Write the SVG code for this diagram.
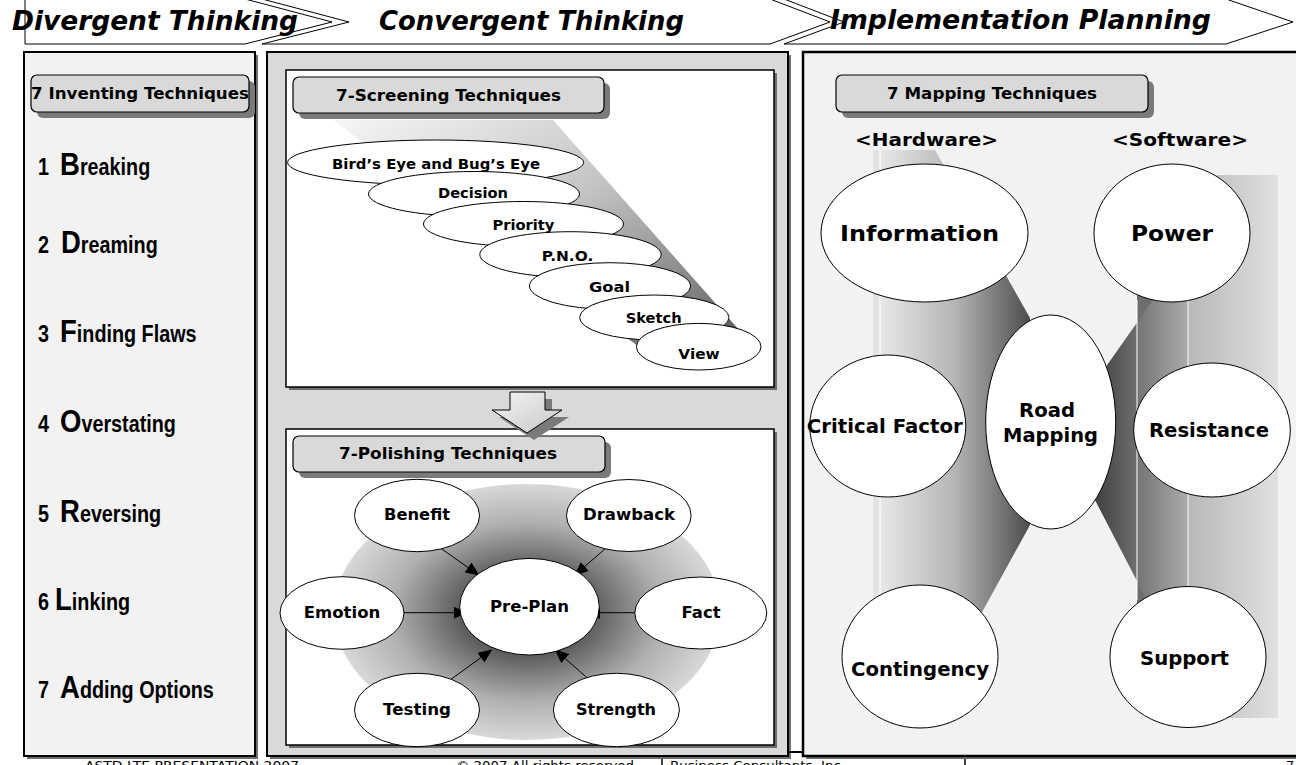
<svg xmlns="http://www.w3.org/2000/svg" width="1296" height="765" viewBox="0 0 1296 765">
<style>
.hdr{font-family:"DejaVu Sans",Verdana,sans-serif;font-weight:bold;font-style:italic;font-size:26px;fill:#000}
.lbl{font-family:"DejaVu Sans",Verdana,sans-serif;font-weight:bold;fill:#000;text-anchor:middle}
.item{font-family:"Liberation Sans",Arial,sans-serif;font-weight:bold;font-size:23px;fill:#000}
.big{font-size:32px}
.foot{font-family:"DejaVu Sans",Verdana,sans-serif;font-size:13px;fill:#000}
.chev{fill:#fff;stroke:#000;stroke-width:1}
.node{fill:#fff;stroke:#000;stroke-width:1}
.tbox{fill:#d9d9d9;stroke:#000;stroke-width:1.2}
.tsh{fill:#7a7a7a}
.psh{fill:#6e6e6e}
.conn{stroke:#000;stroke-width:1;fill:none;marker-end:url(#ah)}
</style>
<defs>
<marker id="ah" markerUnits="userSpaceOnUse" markerWidth="14" markerHeight="12" refX="13" refY="6" orient="auto"><path d="M0,0 L14,6 L0,12 z" fill="#000"/></marker>
<linearGradient id="beam" x1="0" y1="0" x2="1" y2="1"><stop offset="0" stop-color="#f6f6f6"/><stop offset="0.45" stop-color="#c4c4c4"/><stop offset="0.8" stop-color="#808080"/><stop offset="1" stop-color="#4a4a4a"/></linearGradient>
<radialGradient id="rad" cx="0.5" cy="0.5" r="0.5"><stop offset="0" stop-color="#2e2e2e"/><stop offset="0.35" stop-color="#5e5e5e"/><stop offset="0.7" stop-color="#b0b0b0"/><stop offset="1" stop-color="#d8d8d8"/></radialGradient>
<linearGradient id="arr" x1="0" y1="0" x2="1" y2="1"><stop offset="0" stop-color="#f4f4f4"/><stop offset="1" stop-color="#c8c8c8"/></linearGradient>
<linearGradient id="lband" gradientUnits="userSpaceOnUse" x1="880" y1="0" x2="1032" y2="0"><stop offset="0" stop-color="#e8e8e8"/><stop offset="0.5" stop-color="#b4b4b4"/><stop offset="1" stop-color="#4a4a4a"/></linearGradient>
<linearGradient id="rdark" gradientUnits="userSpaceOnUse" x1="1090" y1="0" x2="1137" y2="0"><stop offset="0" stop-color="#3a3a3a"/><stop offset="1" stop-color="#6e6e6e"/></linearGradient>
<linearGradient id="rmid" gradientUnits="userSpaceOnUse" x1="1137" y1="0" x2="1188" y2="0"><stop offset="0" stop-color="#747474"/><stop offset="1" stop-color="#ababab"/></linearGradient>
<linearGradient id="rlight" gradientUnits="userSpaceOnUse" x1="1188" y1="0" x2="1278" y2="0"><stop offset="0" stop-color="#b8b8b8"/><stop offset="1" stop-color="#e0e0e0"/></linearGradient>
</defs>

<g id="header">
<polygon class="chev" points="25,-1 245,-1 332,22 245,44 25,44"/>
<polygon class="chev" points="262,-1 770,-1 830,22 770,44 262,44 349,22"/>
<polygon class="chev" points="784,-1 1226,-1 1293,22 1226,44 784,44 844,22"/>
<text class="hdr" x="12" y="30" textLength="286" lengthAdjust="spacingAndGlyphs">Divergent Thinking</text>
<text class="hdr" x="379" y="30" textLength="305" lengthAdjust="spacingAndGlyphs">Convergent Thinking</text>
<text class="hdr" x="830" y="29" textLength="381" lengthAdjust="spacingAndGlyphs">Implementation Planning</text>
</g>

<g id="panel-left">
<rect class="psh" x="27" y="55" width="231" height="704"/>
<rect x="24" y="52" width="231" height="704" fill="#f2f2f2" stroke="#000" stroke-width="2"/>
<rect class="tsh" x="37" y="81" width="218" height="37" rx="6"/>
<rect class="tbox" x="31" y="75" width="218" height="37" rx="6"/>
<text class="lbl" x="140" y="99" font-size="16" textLength="218" lengthAdjust="spacingAndGlyphs">7 Inventing Techniques</text>
<g transform="translate(38,175) scale(0.86,1)"><text class="item">1<tspan x="25.6" class="big">B</tspan>reaking</text></g>
<g transform="translate(38,253) scale(0.86,1)"><text class="item">2<tspan x="26.7" class="big">D</tspan>reaming</text></g>
<g transform="translate(38,342) scale(0.86,1)"><text class="item">3<tspan x="25.6" class="big">F</tspan>inding Flaws</text></g>
<g transform="translate(38,432) scale(0.86,1)"><text class="item">4<tspan x="25.6" class="big">O</tspan>verstating</text></g>
<g transform="translate(38,522) scale(0.86,1)"><text class="item">5<tspan x="25.6" class="big">R</tspan>eversing</text></g>
<g transform="translate(38,610) scale(0.86,1)"><text class="item">6<tspan x="19.8" class="big">L</tspan>inking</text></g>
<g transform="translate(38,698) scale(0.86,1)"><text class="item">7<tspan x="25.6" class="big">A</tspan>dding Options</text></g>
</g>

<g id="panel-middle">
<rect class="psh" x="270" y="55" width="521" height="704"/>
<rect x="267" y="52" width="521" height="704" fill="#d9d9d9" stroke="#000" stroke-width="2"/>
<rect class="psh" x="289" y="73" width="488" height="317"/>
<rect x="286" y="70" width="488" height="317" fill="#fff" stroke="#000" stroke-width="1.5"/>
<rect class="psh" x="289" y="432" width="488" height="316"/>
<rect x="286" y="429" width="488" height="316" fill="#fff" stroke="#000" stroke-width="1.5"/>
</g>

<g id="screening">
<polygon points="333,120 553,120 748,340 700,360 650,355" fill="url(#beam)"/>
<rect class="tsh" x="299" y="83" width="311" height="36" rx="6"/>
<rect class="tbox" x="293" y="77" width="311" height="36" rx="6"/>
<text class="lbl" x="448.5" y="101" font-size="16" textLength="225" lengthAdjust="spacingAndGlyphs">7-Screening Techniques</text>
<g id="s1"><ellipse class="node" cx="435.6" cy="162.5" rx="148" ry="22.5"/><text class="lbl" x="436" y="169" font-size="14.5" textLength="208" lengthAdjust="spacingAndGlyphs">Bird’s Eye and Bug’s Eye</text></g>
<g id="s2"><ellipse class="node" cx="474" cy="194" rx="105.5" ry="22.5"/><text class="lbl" x="473" y="198" font-size="14.5" textLength="70" lengthAdjust="spacingAndGlyphs">Decision</text></g>
<g id="s3"><ellipse class="node" cx="523.5" cy="224" rx="100" ry="22.5"/><text class="lbl" x="523.4" y="230" font-size="14.5" textLength="62" lengthAdjust="spacingAndGlyphs">Priority</text></g>
<g id="s4"><ellipse class="node" cx="570.5" cy="254.5" rx="90.7" ry="22.8"/><text class="lbl" x="567.5" y="260.7" font-size="14.5" textLength="51.6" lengthAdjust="spacingAndGlyphs">P.N.O.</text></g>
<g id="s5"><ellipse class="node" cx="610" cy="286" rx="80.5" ry="23.3"/><text class="lbl" x="609.5" y="291.7" font-size="14.5" textLength="41" lengthAdjust="spacingAndGlyphs">Goal</text></g>
<g id="s6"><ellipse class="node" cx="654.3" cy="317.5" rx="74.7" ry="22.5"/><text class="lbl" x="653.7" y="322.7" font-size="14.5" textLength="56" lengthAdjust="spacingAndGlyphs">Sketch</text></g>
<g id="s7"><ellipse class="node" cx="698.7" cy="346.7" rx="62.3" ry="23.3"/><text class="lbl" x="699" y="359.3" font-size="14.5" textLength="41.3" lengthAdjust="spacingAndGlyphs">View</text></g>
</g>

<g id="polishing">
<ellipse cx="527" cy="612" rx="193" ry="128" fill="url(#rad)"/>
<rect class="tsh" x="299" y="442" width="312" height="36" rx="6"/>
<rect class="tbox" x="293" y="436" width="312" height="36" rx="6"/>
<text class="lbl" x="448" y="458.5" font-size="16" textLength="218" lengthAdjust="spacingAndGlyphs">7-Polishing Techniques</text>
</g>

<g id="connectors">
<line class="conn" x1="440.8" y1="548.3" x2="478.7" y2="575"/>
<line class="conn" x1="606" y1="548" x2="575" y2="575"/>
<line class="conn" x1="404" y1="612.7" x2="466.6" y2="612.7"/>
<line class="conn" x1="634.7" y1="612.7" x2="587" y2="612.7"/>
<line class="conn" x1="451" y1="679.3" x2="491.4" y2="650"/>
<line class="conn" x1="588.9" y1="679.3" x2="555.4" y2="650"/>
</g>

<g id="p-preplan"><ellipse class="node" cx="529.5" cy="606.7" rx="69.8" ry="48.3"/><text class="lbl" x="529.5" y="611.7" font-size="16" textLength="79" lengthAdjust="spacingAndGlyphs">Pre-Plan</text></g>
<g id="p-benefit"><ellipse class="node" cx="417" cy="515.5" rx="62.5" ry="36.2"/><text class="lbl" x="417" y="520" font-size="16" textLength="66" lengthAdjust="spacingAndGlyphs">Benefit</text></g>
<g id="p-drawback"><ellipse class="node" cx="628.8" cy="515.5" rx="62.3" ry="36"/><text class="lbl" x="629" y="520" font-size="16" textLength="92" lengthAdjust="spacingAndGlyphs">Drawback</text></g>
<g id="p-emotion"><ellipse class="node" cx="342" cy="613" rx="62" ry="36.3"/><text class="lbl" x="342" y="618.3" font-size="16" textLength="76.5" lengthAdjust="spacingAndGlyphs">Emotion</text></g>
<g id="p-fact"><ellipse class="node" cx="700.8" cy="613" rx="66" ry="36"/><text class="lbl" x="701" y="618" font-size="16" textLength="39" lengthAdjust="spacingAndGlyphs">Fact</text></g>
<g id="p-testing"><ellipse class="node" cx="417" cy="710" rx="62.5" ry="36.7"/><text class="lbl" x="417" y="715" font-size="16" textLength="68" lengthAdjust="spacingAndGlyphs">Testing</text></g>
<g id="p-strength"><ellipse class="node" cx="616.4" cy="710" rx="63" ry="36.7"/><text class="lbl" x="616" y="715" font-size="16" textLength="80" lengthAdjust="spacingAndGlyphs">Strength</text></g>

<g id="down-arrow">
<polygon points="517,399 552,399 552,417 569,417 534,440 499,417 517,417" fill="#7a7a7a"/>
<polygon points="510,392 545,392 545,410 562,410 527,433 492,410 510,410" fill="url(#arr)" stroke="#000" stroke-width="1"/>
</g>

<g id="panel-right">
<rect class="psh" x="806" y="55" width="500" height="704"/>
<rect x="803" y="52" width="500" height="704" fill="#f2f2f2" stroke="#000" stroke-width="2.5"/>
<rect class="tsh" x="842" y="81" width="312" height="37" rx="6"/>
<rect class="tbox" x="836" y="75" width="312" height="37" rx="6"/>
<text class="lbl" x="992" y="99.3" font-size="16" textLength="210" lengthAdjust="spacingAndGlyphs">7 Mapping Techniques</text>
<text class="lbl" x="926.5" y="146" font-size="18" textLength="143" lengthAdjust="spacingAndGlyphs">&lt;Hardware&gt;</text>
<text class="lbl" x="1180" y="146" font-size="18" textLength="136" lengthAdjust="spacingAndGlyphs">&lt;Software&gt;</text>
<rect x="873" y="150" width="7" height="460" fill="#e2e2e2"/>
<polygon points="880,150 935,150 1030,318 1030,525 975,625 880,625" fill="url(#lband)"/>
<line x1="880" y1="150" x2="880" y2="610" stroke="#fff" stroke-width="1"/>
<rect x="1188" y="175" width="90" height="543" fill="url(#rlight)"/>
<rect x="1137" y="290" width="51" height="330" fill="url(#rmid)"/>
<polygon points="1160,290 1137,290 1137,610 1152,610 1095,500 1085,430 1105,368" fill="url(#rdark)"/>
<line x1="1137" y1="300" x2="1137" y2="600" stroke="#fff" stroke-width="1"/>
<line x1="1188" y1="300" x2="1188" y2="600" stroke="#fff" stroke-width="1"/>
</g>

<g id="m-information"><ellipse class="node" cx="924.5" cy="233" rx="103.5" ry="69"/><text class="lbl" x="919.5" y="240.7" font-size="21" textLength="159" lengthAdjust="spacingAndGlyphs">Information</text></g>
<g id="m-power"><ellipse class="node" cx="1172" cy="233" rx="78" ry="69"/><text class="lbl" x="1172" y="240.7" font-size="21" textLength="82" lengthAdjust="spacingAndGlyphs">Power</text></g>
<g id="m-critical"><ellipse class="node" cx="887.8" cy="426" rx="78" ry="71"/><text class="lbl" x="884.8" y="433.3" font-size="19" textLength="156" lengthAdjust="spacingAndGlyphs">Critical Factor</text></g>
<g id="m-resistance"><ellipse class="node" cx="1212" cy="430" rx="78.3" ry="67"/><text class="lbl" x="1209" y="436.7" font-size="19" textLength="120" lengthAdjust="spacingAndGlyphs">Resistance</text></g>
<g id="m-road"><ellipse class="node" cx="1050.7" cy="422" rx="65" ry="107"/><text class="lbl" x="1047" y="417.3" font-size="19" textLength="56" lengthAdjust="spacingAndGlyphs">Road</text><text class="lbl" x="1050.5" y="441.7" font-size="19" textLength="95" lengthAdjust="spacingAndGlyphs">Mapping</text></g>
<g id="m-contingency"><ellipse class="node" cx="920" cy="656.5" rx="78" ry="71.5"/><text class="lbl" x="920" y="676" font-size="19" textLength="138" lengthAdjust="spacingAndGlyphs">Contingency</text></g>
<g id="m-support"><ellipse class="node" cx="1188" cy="657" rx="78" ry="70.5"/><text class="lbl" x="1184.5" y="665" font-size="19" textLength="89" lengthAdjust="spacingAndGlyphs">Support</text></g>

<g id="footer">
<line x1="788" y1="752" x2="803" y2="752" stroke="#000" stroke-width="2"/>
<text class="foot" x="85" y="770" textLength="214" lengthAdjust="spacingAndGlyphs">ASTD LTE PRESENTATION 2007</text>
<text class="foot" x="456" y="770" textLength="178" lengthAdjust="spacingAndGlyphs">© 2007 All rights reserved</text>
<line x1="662" y1="759" x2="662" y2="765" stroke="#000" stroke-width="1.5"/>
<text class="foot" x="670" y="770" textLength="175" lengthAdjust="spacingAndGlyphs">Business Consultants, Inc.</text>
<line x1="965" y1="759" x2="965" y2="765" stroke="#000" stroke-width="1.5"/>
<text class="foot" x="1286" y="770">7</text>
</g>
</svg>
